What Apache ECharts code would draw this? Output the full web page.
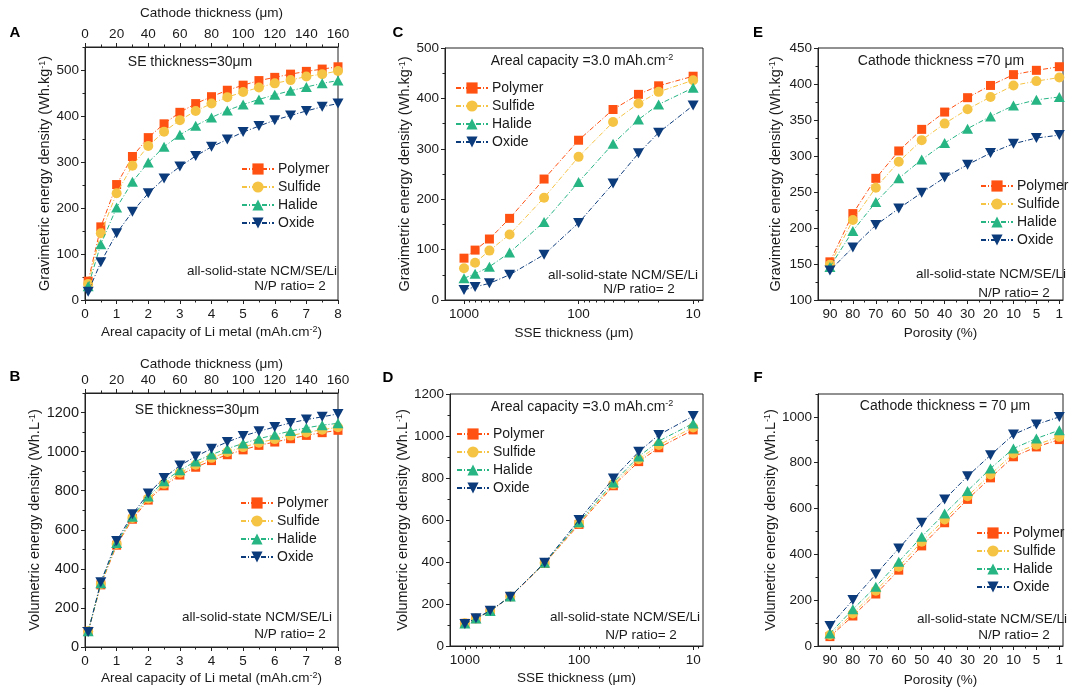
<!DOCTYPE html>
<html><head><meta charset="utf-8">
<script src="https://cdn.jsdelivr.net/npm/echarts@6/dist/echarts.min.js"></script>
<style>html,body{margin:0;padding:0;background:#fff}#c{width:1080px;height:691px}</style>
</head><body><div id="c"></div>
<script>
// ---------------- DATA ----------------
const seriesNames = ['Polymer', 'Sulfide', 'Halide', 'Oxide'];

// Panels A & B: x = areal capacity of Li metal (mAh/cm2)
const arealCapacity = [0.1, 0.5, 1, 1.5, 2, 2.5, 3, 3.5, 4, 4.5, 5, 5.5, 6, 6.5, 7, 7.5, 8];
const gravA_Polymer = [41, 159, 251, 312, 353, 383, 408, 427, 442, 456, 467, 477, 484, 491, 497, 502, 507];
const gravA_Sulfide = [35, 145, 232, 292, 335, 366, 391, 411, 427, 441, 452, 462, 471, 478, 486, 491, 498];
const gravA_Halide  = [30, 121, 201, 257, 299, 333, 359, 379, 397, 412, 425, 436, 446, 455, 463, 471, 477];
const gravA_Oxide   = [18, 82, 145, 192, 232, 264, 290, 313, 333, 349, 365, 378, 391, 401, 411, 420, 427];

const volB_Polymer = [80, 318, 521, 654, 752, 825, 880, 920, 954, 984, 1009, 1032, 1049, 1066, 1083, 1097, 1109];
const volB_Sulfide = [80, 322, 527, 660, 760, 835, 892, 933, 968, 998, 1023, 1046, 1064, 1082, 1098, 1112, 1125];
const volB_Halide  = [80, 326, 532, 667, 770, 848, 905, 950, 985, 1015, 1042, 1066, 1086, 1105, 1122, 1135, 1145];
const volB_Oxide   = [77, 332, 542, 679, 786, 865, 929, 975, 1015, 1049, 1080, 1104, 1126, 1147, 1164, 1178, 1193];

// Panels C & D: x = SSE thickness (um), log axis
const sseThickness = [1000, 800, 600, 400, 200, 100, 50, 30, 20, 10];
const gravC_Polymer = [83, 99, 121, 162, 240, 317, 378, 408, 425, 444];
const gravC_Sulfide = [63, 74, 98, 130, 203, 284, 353, 390, 413, 436];
const gravC_Halide  = [43, 52, 66, 94, 155, 234, 310, 358, 388, 421];
const gravC_Oxide   = [20, 26, 33, 50, 90, 153, 231, 291, 332, 386];

const volD_Polymer = [108, 130, 166, 235, 393, 579, 763, 878, 944, 1029];
const volD_Sulfide = [108, 131, 167, 236, 395, 584, 771, 889, 957, 1041];
const volD_Halide  = [107, 131, 167, 236, 396, 589, 779, 902, 976, 1060];
const volD_Oxide   = [105, 132, 168, 235, 397, 600, 798, 925, 1005, 1095];

// Panels E & F: x = porosity (%), evenly spaced categories
const porosityLabels = ['90', '80', '70', '60', '50', '40', '30', '20', '10', '5', '1'];
const gravE_Polymer = [153, 220, 269, 307, 337, 361, 381, 398, 413, 419, 424];
const gravE_Sulfide = [149, 211, 256, 292, 322, 345, 365, 382, 398, 404, 409];
const gravE_Halide  = [146, 196, 236, 269, 295, 318, 338, 355, 370, 378, 382];
const gravE_Oxide   = [141, 173, 204, 227, 249, 270, 288, 304, 317, 325, 329];

const volF_Polymer = [41, 131, 227, 331, 437, 538, 640, 734, 826, 869, 901];
const volF_Sulfide = [48, 142, 241, 346, 455, 552, 654, 749, 840, 879, 913];
const volF_Halide  = [55, 160, 259, 368, 477, 578, 677, 775, 862, 906, 942];
const volF_Oxide   = [87, 201, 313, 426, 538, 640, 741, 833, 923, 967, 1000];

// tick values
const capTicks = [0, 1, 2, 3, 4, 5, 6, 7, 8];
const capMinor = [0.5, 1.5, 2.5, 3.5, 4.5, 5.5, 6.5, 7.5];
const cathTicks = [0, 20, 40, 60, 80, 100, 120, 140, 160];
const cathMinor = [10, 30, 50, 70, 90, 110, 130, 150];
const gravATicks = [0, 100, 200, 300, 400, 500];
const gravAMinor = [50, 150, 250, 350, 450, 550];
const volBTicks = [0, 200, 400, 600, 800, 1000, 1200];
const volBMinor = [100, 300, 500, 700, 900, 1100, 1300];
const sseTicks = [1000, 100, 10];
const sseMinor = [900, 800, 700, 600, 500, 400, 300, 200, 90, 80, 70, 60, 50, 40, 30, 20, 9];
const gravCTicks = [0, 100, 200, 300, 400, 500];
const gravCMinor = [50, 150, 250, 350, 450];
const volDTicks = [0, 200, 400, 600, 800, 1000, 1200];
const volDMinor = [100, 300, 500, 700, 900, 1100];
const porTicks = [0, 1, 2, 3, 4, 5, 6, 7, 8, 9, 10];
const porMinor = [0.5, 1.5, 2.5, 3.5, 4.5, 5.5, 6.5, 7.5, 8.5, 9.5];
const gravETicks = [100, 150, 200, 250, 300, 350, 400, 450];
const gravEMinor = [125, 175, 225, 275, 325, 375, 425];
const volFTicks = [0, 200, 400, 600, 800, 1000];
const volFMinor = [100, 300, 500, 700, 900, 1100];

// ---------------- STYLE ----------------
const FF = '"Liberation Sans", Arial, sans-serif';
const AX = '#222';
const TXT = '#1a1a1a';
const colors = {Polymer: '#FF5212', Sulfide: '#F6C445', Halide: '#27B584', Oxide: '#0C3B7C'};
const symbols = {Polymer: 'rect', Sulfide: 'circle', Halide: 'triangle', Oxide: 'path://M0,0L10,0L5,8.66Z'};
const symSize = {Polymer: 9, Sulfide: 10, Halide: [11, 10], Oxide: [11, 10]};
const SUP = {sup: {fontSize: 9, verticalAlign: 'top', fontFamily: FF, color: TXT, padding: [0, 0, 6, 0]}};

const grids = [
  {left: 85, top: 47, width: 253, height: 253},   // A
  {left: 85, top: 393, width: 253, height: 254},  // B
  {left: 445, top: 48, width: 258, height: 252},  // C
  {left: 450, top: 394, width: 253, height: 252}, // D
  {left: 818, top: 48, width: 245, height: 252},  // E
  {left: 818, top: 394, width: 245, height: 252}  // F
].map(g => Object.assign(g, {show: true, borderColor: AX, borderWidth: 1, backgroundColor: 'transparent'}));

const xAxes = [], yAxes = [];
function addAxis(list, base, majors, minors, fmt, margin, nameSize, labelSize) {
  const idx = list.length;
  list.push(Object.assign({}, base, {
    axisLine: {show: true, onZero: false, lineStyle: {color: AX, width: 1}},
    axisTick: {show: true, length: 4, customValues: majors, lineStyle: {color: AX, width: 1}},
    axisLabel: {show: true, customValues: majors, formatter: fmt, fontSize: labelSize || 13.5, color: TXT, fontFamily: FF, margin: margin},
    splitLine: {show: false},
    nameTextStyle: {fontSize: nameSize || 13.5, color: TXT, fontFamily: FF, rich: SUP}
  }));
  const minorBase = Object.assign({}, base);
  delete minorBase.name;
  list.push(Object.assign(minorBase, {
    axisLine: {show: false, onZero: false},
    axisTick: {show: true, length: 2.5, customValues: minors, lineStyle: {color: AX, width: 1}},
    axisLabel: {show: false},
    splitLine: {show: false}
  }));
  return idx;
}
const intFmt = v => String(Math.round(v));
const porFmt = v => porosityLabels[Math.round(v)];

const gravName = 'Gravimetric energy density (Wh.kg{sup|-1})';
const volName = 'Volumetric energy density (Wh.L{sup|-1})';
const capName = 'Areal capacity of Li metal (mAh.cm{sup|-2})';
const YN = 14.5;

// Panel axes
const P = {};
// A
P.A = {
  x: addAxis(xAxes, {type: 'value', gridIndex: 0, position: 'bottom', min: 0, max: 8, name: capName, nameLocation: 'middle', nameGap: 25}, capTicks, capMinor, intFmt, 7),
  y: addAxis(yAxes, {type: 'value', gridIndex: 0, position: 'left', min: 0, max: 550, name: gravName, nameLocation: 'middle', nameGap: 31}, gravATicks, gravAMinor, intFmt, 6, YN)
};
addAxis(xAxes, {type: 'value', gridIndex: 0, position: 'top', min: 0, max: 160, name: 'Cathode thickness (μm)', nameLocation: 'middle', nameGap: 27}, cathTicks, cathMinor, intFmt, 6);
// B
P.B = {
  x: addAxis(xAxes, {type: 'value', gridIndex: 1, position: 'bottom', min: 0, max: 8, name: capName, nameLocation: 'middle', nameGap: 24}, capTicks, capMinor, intFmt, 7),
  y: addAxis(yAxes, {type: 'value', gridIndex: 1, position: 'left', min: 0, max: 1300, name: volName, nameLocation: 'middle', nameGap: 34}, volBTicks, volBMinor, intFmt, 6, YN, 14.5)
};
addAxis(xAxes, {type: 'value', gridIndex: 1, position: 'top', min: 0, max: 160, name: 'Cathode thickness (μm)', nameLocation: 'middle', nameGap: 22}, cathTicks, cathMinor, intFmt, 6);
// C
P.C = {
  x: addAxis(xAxes, {type: 'log', logBase: 10, gridIndex: 2, position: 'bottom', min: 8.2, max: 1465, inverse: true, name: 'SSE thickness (μm)', nameLocation: 'middle', nameGap: 26}, sseTicks, sseMinor, intFmt, 7),
  y: addAxis(yAxes, {type: 'value', gridIndex: 2, position: 'left', min: 0, max: 500, name: gravName, nameLocation: 'middle', nameGap: 24}, gravCTicks, gravCMinor, intFmt, 6, YN)
};
// D
P.D = {
  x: addAxis(xAxes, {type: 'log', logBase: 10, gridIndex: 3, position: 'bottom', min: 8.2, max: 1350, inverse: true, name: 'SSE thickness (μm)', nameLocation: 'middle', nameGap: 25}, sseTicks, sseMinor, intFmt, 7),
  y: addAxis(yAxes, {type: 'value', gridIndex: 3, position: 'left', min: 0, max: 1200, name: volName, nameLocation: 'middle', nameGap: 36}, volDTicks, volDMinor, intFmt, 6, YN)
};
// E
P.E = {
  x: addAxis(xAxes, {type: 'value', gridIndex: 4, position: 'bottom', min: -0.52, max: 10.16, name: 'Porosity (%)', nameLocation: 'middle', nameGap: 26}, porTicks, porMinor, porFmt, 7),
  y: addAxis(yAxes, {type: 'value', gridIndex: 4, position: 'left', min: 100, max: 450, name: gravName, nameLocation: 'middle', nameGap: 35}, gravETicks, gravEMinor, intFmt, 6, YN)
};
// F
P.F = {
  x: addAxis(xAxes, {type: 'value', gridIndex: 5, position: 'bottom', min: -0.52, max: 10.16, name: 'Porosity (%)', nameLocation: 'middle', nameGap: 27}, porTicks, porMinor, porFmt, 7),
  y: addAxis(yAxes, {type: 'value', gridIndex: 5, position: 'left', min: 0, max: 1100, name: volName, nameLocation: 'middle', nameGap: 35}, volFTicks, volFMinor, intFmt, 6, YN)
};

const panelData = {
  A: {x: arealCapacity, s: [gravA_Polymer, gravA_Sulfide, gravA_Halide, gravA_Oxide]},
  B: {x: arealCapacity, s: [volB_Polymer, volB_Sulfide, volB_Halide, volB_Oxide]},
  C: {x: sseThickness, s: [gravC_Polymer, gravC_Sulfide, gravC_Halide, gravC_Oxide]},
  D: {x: sseThickness, s: [volD_Polymer, volD_Sulfide, volD_Halide, volD_Oxide]},
  E: {x: porosityLabels.map((l, i) => i), s: [gravE_Polymer, gravE_Sulfide, gravE_Halide, gravE_Oxide]},
  F: {x: porosityLabels.map((l, i) => i), s: [volF_Polymer, volF_Sulfide, volF_Halide, volF_Oxide]}
};

const series = [];
Object.keys(panelData).forEach(k => {
  const pd = panelData[k];
  pd.s.forEach((vals, si) => {
    const nm = seriesNames[si];
    series.push({
      type: 'line', name: nm,
      xAxisIndex: P[k].x, yAxisIndex: P[k].y,
      data: vals.map((v, i) => [pd.x[i], v]),
      symbol: symbols[nm], symbolSize: symSize[nm], showSymbol: true,
      lineStyle: {color: colors[nm], width: 1, type: [5, 2, 1, 2]},
      itemStyle: {color: colors[nm]},
      emphasis: {disabled: true},
      z: 2 + si
    });
  });
});

const legendPos = [
  {left: 241, top: 162}, {left: 240, top: 496}, {left: 455, top: 81},
  {left: 456, top: 427}, {left: 980, top: 179}, {left: 976, top: 526}
];
const legends = legendPos.map(p => ({
  data: seriesNames, orient: 'vertical', left: p.left, top: p.top,
  itemWidth: 32, itemHeight: 14, itemGap: 4, padding: 0,
  selectedMode: false,
  textStyle: {fontSize: 14, color: TXT, fontFamily: FF, padding: [0, 0, 0, -1]}
}));

function txt(x, y, s, align, size) {
  return {
    type: 'text', x: x, y: y,
    style: {text: s, fontSize: size || 13.5, fontFamily: FF, fill: TXT, align: align || 'center', verticalAlign: 'middle', rich: SUP}
  };
}
const graphics = [
  txt(15, 33, 'A'), txt(15, 377, 'B'),
  txt(398, 33, 'C'), txt(388, 378, 'D'),
  txt(758, 33, 'E'), txt(758, 378, 'F'),
  txt(190, 62, 'SE thickness=30μm', 'center', 14), txt(197, 410, 'SE thickness=30μm', 'center', 14),
  txt(582, 61, 'Areal capacity =3.0 mAh.cm{sup|-2}', 'center', 14), txt(582, 407, 'Areal capacity =3.0 mAh.cm{sup|-2}', 'center', 14),
  txt(941, 61, 'Cathode thickness =70 μm', 'center', 14), txt(945, 406, 'Cathode thickness = 70 μm', 'center', 14),
  txt(262, 271, 'all-solid-state NCM/SE/Li'), txt(290, 286, 'N/P ratio= 2'),
  txt(257, 617, 'all-solid-state NCM/SE/Li'), txt(290, 634, 'N/P ratio= 2'),
  txt(623, 275, 'all-solid-state NCM/SE/Li'), txt(639, 289, 'N/P ratio= 2'),
  txt(625, 617, 'all-solid-state NCM/SE/Li'), txt(641, 635, 'N/P ratio= 2'),
  txt(991, 274, 'all-solid-state NCM/SE/Li'), txt(1014, 293, 'N/P ratio= 2'),
  txt(992, 619, 'all-solid-state NCM/SE/Li'), txt(1014, 635, 'N/P ratio= 2')
];
graphics.slice(0, 6).forEach(g => { g.style.fontWeight = 'bold'; g.style.fontSize = 15; g.style.fill = '#000'; });

const chart = echarts.init(document.getElementById('c'), null, {renderer: 'canvas'});
chart.setOption({
  animation: false,
  backgroundColor: '#fff',
  grid: grids,
  xAxis: xAxes,
  yAxis: yAxes,
  legend: legends,
  series: series,
  graphic: {elements: graphics}
});
</script>
</body></html>
